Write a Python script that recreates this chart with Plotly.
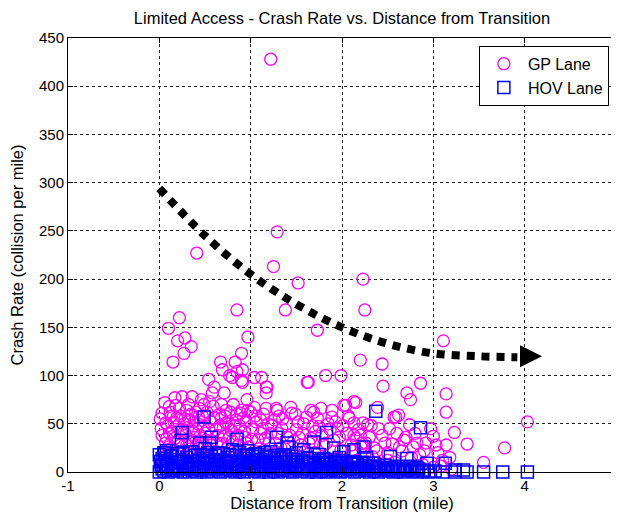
import plotly.graph_objects as go

# GP Lane crash rates (distance in mile, collisions per mile)
gp_x = [1.22, 1.29, 1.25, 0.41, 1.52, 2.23, 0.85, 1.38, 2.25,
        0.22, 0.10, 0.20, 0.28, 0.35, 0.27, 0.97, 0.15, 0.90, 0.67, 0.83, 0.69, 0.77, 0.85, 0.91, 0.80,
        0.90, 0.54, 1.04, 1.12, 1.18, 1.73, 1.63, 1.82, 1.99, 2.04,
        3.11, 2.20, 2.44, 2.45, 2.86, 2.71, 2.75, 3.14, 3.14, 2.15, 2.08, 2.57, 2.62, 2.39, 2.23, 2.28,
        2.74, 4.03, 3.23, 2.44, 3.00, 2.80, 2.55, 3.14, 3.37, 3.78, 2.66, 3.55, 2.15, 3.03, 2.33, 2.22,
        0.60, 0.71, 0.58, 0.25, 0.36, 0.46, 0.91, 0.96, 0.11, 0.18, 0.03, 0.30, 0.40, 0.78, 0.89, 1.00,
        0.07, 0.16, 0.33, 0.11, 0.24, 0.40, 0.62, 0.73, 0.84, 0.95, 1.02, 0.07, 0.30, 0.47, 0.69, 0.77,
        0.95, 0.05, 0.25, 0.62,
        1.04, 1.17, 1.28, 1.44, 1.66, 1.77, 0.73, 0.90, 1.89, 0.68,
        1.62, 1.17, 1.17, 2.02, 2.13, 1.29, 1.45, 1.69, 1.61, 1.89, 1.11, 1.26, 1.50, 2.13, 2.13, 1.75,
        1.66, 1.91, 1.11, 1.40, 1.55, 1.99, 2.21, 2.59,
        0.02, 0.08, 0.13, 0.14, 0.19, 0.21, 0.23, 0.27, 0.29, 0.32, 0.34, 0.38, 0.39, 0.43, 0.44, 0.48,
        0.50, 0.52, 0.53, 0.56, 0.59, 0.64, 0.66, 0.70, 0.75, 0.79, 0.81, 0.86, 0.88, 0.93, 0.98, 1.06,
        1.08, 1.13, 1.20, 1.23, 1.30, 1.33, 1.35, 1.47, 1.52, 1.57, 1.60, 1.71, 1.80, 1.85, 1.95, 2.05,
        2.10, 2.18, 2.30, 2.35, 2.40, 2.50, 2.60, 2.68, 2.78, 2.85, 2.92, 3.05, 3.18,
        0.04, 0.12, 0.20, 0.31, 0.42, 0.51, 0.65, 0.74, 0.87, 0.99, 1.10, 1.24, 1.37, 1.48, 1.63, 1.78,
        1.90, 2.02, 2.16, 2.28, 2.42, 2.58, 2.70, 2.88, 3.00, 3.10, 3.20]
gp_y = [428, 249, 213, 227, 196, 200, 168, 168, 168,
        160, 149, 136, 139, 130, 123, 140, 114, 123, 114, 114, 106, 100, 104, 106, 98,
        95, 96, 98, 98, 88, 147, 93, 100, 100, 69,
        136, 116, 112, 89, 92, 82, 75, 81, 62, 72, 56, 57, 59, 67, 51, 49,
        49, 52, 41, 38, 37, 40, 29, 28, 29, 25, 22, 10, 35, 28, 16, 30,
        88, 82, 82, 78, 78, 75, 93, 75, 68, 69, 61, 64, 62, 62, 61, 62,
        51, 52, 54, 40, 43, 44, 44, 51, 54, 52, 44, 30, 28, 31, 30, 36,
        30, 21, 20, 21,
        67, 66, 66, 67, 64, 66, 64, 64, 64, 56,
        93, 88, 82, 69, 73, 64, 61, 62, 57, 57, 54, 54, 44, 51, 38, 47,
        35, 33, 40, 36, 28, 23, 26, 57,
        45, 35, 58, 25, 47, 33, 58, 50, 38, 70, 24, 52, 36, 57, 66, 47,
        40, 62, 25, 52, 68, 38, 60, 46, 25, 43, 70, 38, 48, 42, 26, 52,
        33, 45, 30, 48, 40, 25, 55, 32, 52, 40, 22, 42, 28, 50, 45, 40,
        28, 44, 36, 25, 45, 20, 40, 33, 26, 18, 30, 20, 15,
        8, 12, 5, 10, 14, 6, 12, 8, 15, 5, 10, 14, 7, 12, 9, 14,
        6, 10, 12, 5, 8, 10, 4, 8, 5, 12, 3]

# more GP points in the crowded low band
gp_low_x = [0.01, 0.03, 0.06, 0.09, 0.10, 0.12, 0.14, 0.17, 0.17, 0.19, 0.22, 0.23, 0.26, 0.28, 0.31,
            0.33, 0.35, 0.37, 0.41, 0.42, 0.45, 0.47, 0.49, 0.51, 0.54, 0.55, 0.57, 0.60, 0.63, 0.66,
            0.68, 0.71, 0.72, 0.76, 0.80, 0.82, 0.85, 0.87, 0.92, 0.94, 0.97, 1.01, 1.05, 1.09, 1.14,
            1.16, 1.19, 1.22, 1.27, 1.31, 1.34, 1.39, 1.43, 1.49, 1.53, 1.58, 1.64, 1.68, 1.73, 1.78,
            1.83, 1.87, 1.93, 1.97, 2.01, 2.07, 2.11, 2.20, 2.26, 2.32, 2.38, 2.47, 2.52, 2.63, 2.70,
            2.82, 2.90, 2.97, 0.06, 0.18, 0.36, 0.55, 0.79, 0.92, 1.15, 1.31, 1.55, 1.70, 1.95, 2.25,
            2.50, 2.76, 3.08]
gp_low_y = [55, 38, 72, 48, 26, 62, 42, 35, 77, 56, 66, 28, 40, 55, 46,
            32, 60, 42, 28, 50, 38, 58, 70, 33, 44, 73, 28, 56, 30, 48,
            70, 37, 58, 50, 32, 48, 60, 28, 56, 36, 64, 34, 58, 24, 60,
            35, 50, 40, 30, 58, 45, 50, 38, 60, 36, 50, 30, 48, 56, 38,
            30, 44, 52, 36, 48, 58, 22, 38, 30, 48, 22, 30, 45, 26, 36,
            30, 22, 45, 16, 18, 18, 16, 18, 12, 18, 20, 16, 20, 15, 18,
            12, 15, 6]

# HOV Lane crash rates
hov_x = [0.49, 0.25, 0.24, 0.57, 0.55, 0.85, 1.28, 1.40, 1.69, 1.83, 1.42, 0.97, 1.91, 2.37, 2.86,
         2.24, 2.27, 2.53, 2.71, 2.93, 3.13, 3.24, 3.33, 3.24, 3.37, 3.55, 3.76, 4.03,
         0.05, 0.44, 1.15, 1.58, 2.02, 2.13, 0.95,
         0.00, 0.05, 0.10, 0.15, 0.20, 0.26, 0.31, 0.36, 0.41, 0.46, 0.52, 0.57, 0.62, 0.67, 0.72,
         0.78, 0.83, 0.88, 0.93, 0.99, 1.04, 1.09, 1.14, 1.20, 1.25, 1.30, 1.35, 1.41, 1.46, 1.51,
         1.56, 1.62, 1.67, 1.72, 1.77, 1.83, 1.88, 1.93, 1.98, 2.04, 2.09, 2.14, 2.19, 2.25, 2.30,
         2.35, 2.40, 2.46, 2.51, 2.56, 2.61, 2.67, 2.72, 2.77, 2.82, 2.88, 2.95, 3.02, 3.10,
         0.02, 0.09, 0.16, 0.23, 0.30, 0.37, 0.44, 0.51, 0.58, 0.65, 0.72, 0.79, 0.86, 0.93, 1.00,
         1.07, 1.14, 1.21, 1.28, 1.35, 1.42, 1.49, 1.56, 1.63, 1.70, 1.77, 1.84, 1.91, 1.98, 2.05,
         2.12, 2.19, 2.26, 2.33, 2.40, 2.47, 2.54, 2.61, 2.68, 2.75, 2.82,
         0.03, 0.12, 0.21, 0.30, 0.39, 0.48, 0.57, 0.66, 0.75, 0.84, 0.93, 1.02, 1.11, 1.20, 1.29,
         1.38, 1.47, 1.56, 1.65, 1.74, 1.83, 1.92, 2.01, 2.10,
         0.08, 0.20, 0.35, 0.50, 0.65, 0.80, 1.05, 1.22, 1.36, 1.50, 1.75]
hov_y = [57, 41, 33, 36, 30, 34, 36, 30, 31, 41, 26, 22, 25, 63, 46,
         26, 15, 16, 14, 9, 9, 2, 2, 0, 0, 0, 0, 0,
         20, 30, 20, 23, 21, 23, 18,
         0, 1, 0, 2, 1, 0, 3, 1, 0, 2, 0, 1, 3, 0, 1,
         2, 0, 1, 0, 3, 1, 0, 2, 0, 1, 0, 2, 1, 0, 3,
         1, 0, 2, 0, 1, 0, 2, 1, 0, 1, 3, 0, 1, 2, 0,
         1, 0, 2, 1, 0, 1, 0, 2, 1, 0, 1, 0, 1, 0,
         7, 8, 6, 9, 7, 8, 6, 9, 8, 7, 9, 6, 8, 7, 9,
         6, 8, 7, 9, 6, 8, 7, 6, 8, 7, 6, 8, 5, 7, 6,
         8, 5, 7, 6, 5, 7, 5, 6, 4, 6, 5,
         14, 16, 13, 15, 17, 14, 16, 13, 15, 17, 14, 16, 13, 15, 14,
         16, 13, 12, 14, 12, 13, 11, 12, 11,
         22, 19, 21, 24, 20, 23, 19, 21, 18, 20, 18]

# more HOV points packed near zero
hov_low_x = [0.03, 0.08, 0.13, 0.18, 0.23, 0.28, 0.33, 0.38, 0.43, 0.48, 0.54, 0.59, 0.64, 0.69,
             0.74, 0.80, 0.85, 0.90, 0.95, 1.01, 1.06, 1.11, 1.16, 1.22, 1.27, 1.32, 1.37, 1.43,
             1.48, 1.53, 1.58, 1.64, 1.69, 1.74, 1.79, 1.85, 1.90, 1.95, 2.00, 2.06, 2.11, 2.16,
             2.21, 2.27, 2.32, 2.37, 2.42, 2.48, 2.53, 2.58, 2.63, 2.69, 2.74, 2.79, 2.84, 2.90,
             0.01, 0.07, 0.13, 0.19, 0.25, 0.31, 0.37, 0.43, 0.49, 0.55, 0.61, 0.67, 0.73, 0.79,
             0.85, 0.91, 0.97, 1.03, 1.09, 1.15, 1.21, 1.27, 1.33, 1.39, 1.45, 1.51, 1.57, 1.63,
             1.69, 1.75, 1.81, 1.87, 1.93, 1.99, 2.05, 2.11, 2.17, 2.23, 2.29, 2.35,
             0.00, 0.06, 0.14, 0.26, 0.33, 0.42, 0.53, 0.61, 0.70, 0.77, 0.88, 0.98, 1.08, 1.17,
             1.26, 1.33, 1.45, 1.62, 1.80, 1.97]
hov_low_y = [3, 4, 5, 4, 3, 5, 4, 3, 4, 5, 3, 4, 5, 3, 4, 5, 3, 4, 3, 5, 4, 3, 4, 5, 3, 4, 3, 5,
             4, 3, 4, 3, 5, 4, 3, 4, 3, 4, 5, 3, 4, 3, 4, 3, 4, 3, 4, 3, 3, 4, 3, 3, 4, 3, 3, 2,
             11, 12, 10, 11, 12, 10, 11, 12, 10, 11, 12, 11, 10, 12, 11, 10, 11, 12, 10, 11, 10,
             11, 10, 11, 10, 11, 10, 10, 9, 10, 9, 10, 9, 10, 9, 9, 9, 10, 9, 9,
             18, 20, 17, 19, 21, 18, 20, 17, 19, 18, 20, 17, 18, 16, 17, 15, 16, 15, 14, 15]

# trend arrow drawn by hand on the original
trend_x = [0.0, 0.5, 1.0, 1.5, 2.0, 2.5, 3.0, 3.5, 3.92]
trend_y = [294, 245, 205, 174, 150, 133, 123, 120, 119]

x_ticks = [-1, 0, 1, 2, 3, 4, 5]
y_ticks = [0, 50, 100, 150, 200, 250, 300, 350, 400, 450]

font = 'Liberation Sans, Arial, sans-serif'

fig = go.Figure()

fig.add_trace(go.Scatter(x=gp_x + gp_low_x, y=gp_y + gp_low_y, mode='markers', name='GP Lane',
                         cliponaxis=False,
                         marker=dict(symbol='circle-open', size=12, color='#ff00ff', line=dict(width=1.3))))
fig.add_trace(go.Scatter(x=hov_x + hov_low_x, y=hov_y + hov_low_y, mode='markers', name='HOV Lane',
                         cliponaxis=False,
                         marker=dict(symbol='square-open', size=12, color='#0000ff', line=dict(width=1.5))))
fig.add_trace(go.Scatter(x=trend_x, y=trend_y, mode='lines', showlegend=False, hoverinfo='skip',
                         line=dict(color='black', width=8, dash='8px,7px', shape='spline')))

# arrow head
fig.add_annotation(x=4.19, y=120, ax=3.96, ay=120, axref='x', ayref='y', xref='x', yref='y',
                   text='', showarrow=True, arrowhead=2, arrowsize=1.1, arrowwidth=4, arrowcolor='black')

axis_style = dict(showline=True, linecolor='black', linewidth=1, mirror='ticks', ticks='inside',
                  ticklen=5, tickcolor='black', showgrid=True, gridcolor='#222', gridwidth=1,
                  griddash='3px,3px', zeroline=False, automargin=False,
                  tickfont=dict(size=15, color='black'))

fig.update_xaxes(range=[-1, 5], tickvals=x_ticks, ticktext=[str(v) for v in x_ticks],
                 ticklabeloverflow='allow',
                 title=dict(text='Distance from Transition (mile)', font=dict(size=16.5, color='black'), standoff=0),
                 **axis_style)
fig.update_yaxes(range=[0, 450], tickvals=y_ticks, ticktext=[str(v) for v in y_ticks],
                 title=dict(text='Crash Rate (collision per mile)', font=dict(size=16.5, color='black'), standoff=14),
                 **axis_style)

# the page body adds an 8px offset, so the figure is 8px smaller than the window
fig.update_layout(
    width=611, height=507,
    margin=dict(l=60, r=3, t=30, b=43),
    paper_bgcolor='white', plot_bgcolor='white',
    font=dict(family=font, size=15, color='black'),
    title=dict(text='Limited Access - Crash Rate vs. Distance from Transition', x=0.5, xref='paper',
               y=1 - 10 / 507, yanchor='middle', font=dict(size=16.5, color='black')),
    legend=dict(x=0.987, y=0.982, xanchor='right', yanchor='top', bgcolor='white', itemwidth=38,
                bordercolor='black', borderwidth=1, font=dict(size=16), tracegroupgap=0),
    showlegend=True,
)

fig.write_html('out.html')
